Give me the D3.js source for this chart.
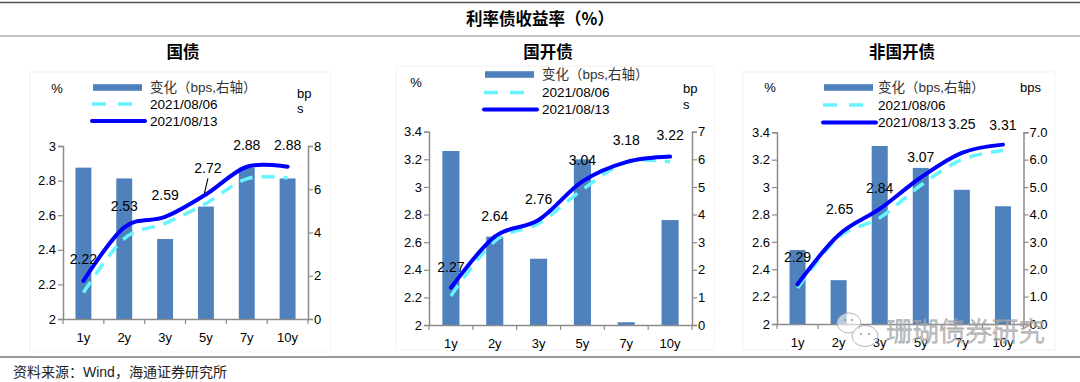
<!DOCTYPE html>
<html>
<head>
<meta charset="utf-8">
<script src="https://cdn.jsdelivr.net/npm/d3@7"></script>
<style>
  html, body { margin: 0; padding: 0; background: #fff; }
  svg { display: block; }
  text { font-family: "Liberation Sans", Arial, "Noto Sans CJK SC", sans-serif; }
</style>
</head>
<body>
<svg id="chart" width="1080" height="382"></svg>
<script>
// ---------- DATA ----------
const categories = ["1y", "2y", "3y", "5y", "7y", "10y"];

const govChange = [7.0, 6.5, 3.7, 5.2, 7.0, 6.5];
const gov0806   = [2.153, 2.465, 2.553, 2.668, 2.81, 2.815];
const gov0813   = [2.22, 2.53, 2.59, 2.72, 2.88, 2.88];

const cdbChange = [6.3, 3.2, 2.4, 6.0, 0.1, 3.8];
const cdb0806   = [2.21, 2.608, 2.736, 2.98, 3.179, 3.182];
const cdb0813   = [2.27, 2.64, 2.76, 3.04, 3.18, 3.22];

const nonChange = [2.7, 1.6, 6.5, 5.7, 4.9, 4.3];
const non0806   = [2.263, 2.634, 2.775, 3.013, 3.201, 3.267];
const non0813   = [2.29, 2.65, 2.84, 3.07, 3.25, 3.31];

const govLeftTicks  = [2, 2.2, 2.4, 2.6, 2.8, 3];
const govRightTicks = [0, 2, 4, 6, 8];
const cdbLeftTicks  = [2, 2.2, 2.4, 2.6, 2.8, 3, 3.2, 3.4];
const cdbRightTicks = [0, 1, 2, 3, 4, 5, 6, 7];
const nonLeftTicks  = [2, 2.2, 2.4, 2.6, 2.8, 3, 3.2, 3.4];
const nonRightTicks = [0, 1, 2, 3, 4, 5, 6, 7];

const mainTitle = "利率债收益率（%）";
const panelTitles = ["国债", "国开债", "非国开债"];
const legendLabels = ["变化（bps,右轴）", "2021/08/06", "2021/08/13"];
const sourceText = "资料来源：Wind，海通证券研究所";
const watermark = "珊瑚债券研究";

// ---------- STYLE ----------
const BAR = "#4F81BD", SOLID = "#0000FF", DASH = "#66F5FF", AXIS = "#8C8C8C";

const panels = [
  { title: panelTitles[0], cx: 183, change: govChange, y0806: gov0806, y0813: gov0813,
    leftTicks: govLeftTicks, rightTicks: govRightTicks, rightFmt: d => String(d),
    x0: 63, x1: 308, yTop: 146, yBot: 319,
    frame: [30, 72, 300, 280],
    labelDy: [-22, -21, -22, -26, -22, -22], labelDx: [0, 0, 0, 2, 0, 0], leader: 3,
    pct: [57, 88], bps: [[297, 93, "bp"], [297, 108, "s"]],
    leg: { sx: 92, tx: 150, ys: [87.5, 104, 121] } },
  { title: panelTitles[1], cx: 548, change: cdbChange, y0806: cdb0806, y0813: cdb0813,
    leftTicks: cdbLeftTicks, rightTicks: cdbRightTicks, rightFmt: d => String(d),
    x0: 429, x1: 692, yTop: 131.7, yBot: 325,
    frame: [396, 66, 318, 284],
    labelDy: [-21, -21, -21, -21, -21.5, -21], labelDx: [0, 0, 0, 0, 0, 0], leader: -1,
    pct: [416, 82], bps: [[683, 88, "bp"], [683, 104, "s"]],
    leg: { sx: 484, tx: 542, ys: [74.5, 92.5, 109.5] } },
  { title: panelTitles[2], cx: 902, change: nonChange, y0806: non0806, y0813: non0813,
    leftTicks: nonLeftTicks, rightTicks: nonRightTicks, rightFmt: d3.format(".1f"),
    x0: 777, x1: 1023.5, yTop: 132.3, yBot: 324,
    frame: [743, 72, 312, 278],
    labelDy: [-27.5, -25.5, -21, -20, -29, -20], labelDx: [0, 1, 0, 0, 0, 0], leader: -1,
    pct: [770, 87], bps: [[1020, 87, "bps"]],
    leg: { sx: 823, tx: 878, ys: [87.5, 105, 122.5] } }
];

const svg = d3.select("#chart");

// frame lines
svg.append("line").attr("x1", 0).attr("x2", 1080).attr("y1", 2.5).attr("y2", 2.5)
  .attr("stroke", "#555").attr("stroke-width", 1.5);
svg.append("line").attr("x1", 0).attr("x2", 1080).attr("y1", 36).attr("y2", 36)
  .attr("stroke", "#8a8a8a").attr("stroke-width", 1);
svg.append("line").attr("x1", 0).attr("x2", 1080).attr("y1", 357).attr("y2", 357)
  .attr("stroke", "#777").attr("stroke-width", 1.5);

svg.append("text").attr("x", 540).attr("y", 19).attr("dy", "0.35em")
  .attr("text-anchor", "middle").attr("font-size", 16.5).attr("font-weight", "bold")
  .style("font-family", "'Noto Sans CJK SC', sans-serif").text(mainTitle);

svg.append("text").attr("x", 13).attr("y", 372).attr("dy", "0.35em")
  .attr("font-size", 14).attr("fill", "#222")
  .style("font-family", "'Liberation Sans', 'Noto Sans CJK SC', sans-serif").text(sourceText);

panels.forEach(p => {
  const g = svg.append("g");
  // faint chart area
  g.append("rect").attr("x", p.frame[0]).attr("y", p.frame[1]).attr("width", p.frame[2]).attr("height", p.frame[3])
    .attr("fill", "none").attr("stroke", "#f2f2f2");

  g.append("text").attr("x", p.cx).attr("y", 52).attr("dy", "0.35em")
    .attr("text-anchor", "middle").attr("font-size", 16.5).attr("font-weight", "bold")
    .style("font-family", "'Noto Sans CJK SC', sans-serif").text(p.title);

  const x = d3.scaleBand().domain(categories).range([p.x0, p.x1]).paddingInner(0).paddingOuter(0);
  const yL = d3.scaleLinear().domain([p.leftTicks[0], p.leftTicks[p.leftTicks.length - 1]]).range([p.yBot, p.yTop]);
  const yR = d3.scaleLinear().domain([p.rightTicks[0], p.rightTicks[p.rightTicks.length - 1]]).range([p.yBot, p.yTop]);

  // bars
  const bw = x.bandwidth() * 0.39;
  g.selectAll("rect.bar").data(p.change).join("rect").attr("class", "bar")
    .attr("x", (d, i) => x(categories[i]) + (x.bandwidth() - bw) / 2)
    .attr("width", bw)
    .attr("y", d => yR(d))
    .attr("height", d => yR(0) - yR(d))
    .attr("fill", BAR);

  // axes
  const axL = g.append("g").attr("transform", `translate(${p.x0},0)`)
    .call(d3.axisLeft(yL).tickValues(p.leftTicks).tickSize(5).tickFormat(d => String(d)));
  const axR = g.append("g").attr("transform", `translate(${p.x1},0)`)
    .call(d3.axisRight(yR).tickValues(p.rightTicks).tickSize(5).tickFormat(p.rightFmt));
  const axB = g.append("g").attr("transform", `translate(0,${p.yBot})`)
    .call(d3.axisBottom(x).tickSize(0).tickFormat(""));
  [axL, axR, axB].forEach(a => {
    a.select(".domain").attr("stroke", AXIS).attr("stroke-width", 1.5);
    a.selectAll(".tick line").attr("stroke", AXIS).attr("stroke-width", 1.2);
    a.selectAll(".tick text").attr("fill", "#000").attr("font-size", 13)
      .style("font-family", "'Liberation Sans', Arial, sans-serif");
  });
  axL.selectAll(".tick text").attr("x", -7);
  axR.selectAll(".tick text").attr("x", 6);
  // category ticks at band boundaries
  const bounds = categories.map(c => x(c)).concat([p.x1]);
  g.selectAll("line.ctick").data(bounds).join("line").attr("class", "ctick")
    .attr("x1", d => d).attr("x2", d => d).attr("y1", p.yBot).attr("y2", p.yBot + 5)
    .attr("stroke", AXIS).attr("stroke-width", 1.2);
  g.selectAll("text.cat").data(categories).join("text").attr("class", "cat")
    .attr("x", d => x(d) + x.bandwidth() / 2).attr("y", p.yBot + 18).attr("dy", "0.35em")
    .attr("text-anchor", "middle").attr("font-size", 13).text(d => d);

  // lines
  const cx = i => x(categories[i]) + x.bandwidth() / 2;
  const line = d3.line().x((d, i) => cx(i)).y(d => yL(d)).curve(d3.curveCardinal.tension(0));
  g.append("path").datum(p.y0806).attr("d", line).attr("fill", "none")
    .attr("stroke", DASH).attr("stroke-width", 3.5).attr("stroke-dasharray", "13,9");
  g.append("path").datum(p.y0813).attr("d", line).attr("fill", "none")
    .attr("stroke", SOLID).attr("stroke-width", 4).attr("stroke-linecap", "round");

  // data labels
  g.selectAll("text.lbl").data(p.y0813).join("text").attr("class", "lbl")
    .attr("x", (d, i) => cx(i) + p.labelDx[i])
    .attr("y", (d, i) => yL(d) + p.labelDy[i]).attr("dy", "0.35em")
    .attr("text-anchor", "middle").attr("font-size", 14).attr("fill", "#000")
    .text(d => d3.format(".2f")(d));
  if (p.leader >= 0) {
    const i = p.leader;
    const lx = cx(i) + p.labelDx[i], ly = yL(p.y0813[i]) + p.labelDy[i];
    g.append("line").attr("x1", lx).attr("y1", ly + 10).attr("x2", lx - 3.5).attr("y2", ly + 25)
      .attr("stroke", "#000").attr("stroke-width", 1.1);
  }

  // unit labels
  g.append("text").attr("x", p.pct[0]).attr("y", p.pct[1]).attr("dy", "0.35em")
    .attr("text-anchor", "middle").attr("font-size", 13).text("%");
  p.bps.forEach(b => g.append("text").attr("x", b[0]).attr("y", b[1]).attr("dy", "0.35em")
    .attr("font-size", 13).text(b[2]));

  // legend
  const L = p.leg;
  g.append("rect").attr("x", L.sx + 1).attr("y", L.ys[0] - 3.3).attr("width", 49).attr("height", 6.6).attr("fill", BAR);
  g.append("line").attr("x1", L.sx).attr("x2", L.sx + 44).attr("y1", L.ys[1]).attr("y2", L.ys[1])
    .attr("stroke", DASH).attr("stroke-width", 3.5).attr("stroke-dasharray", "14,12");
  g.append("line").attr("x1", L.sx).attr("x2", L.sx + 53).attr("y1", L.ys[2]).attr("y2", L.ys[2])
    .attr("stroke", SOLID).attr("stroke-width", 4).attr("stroke-linecap", "round");
  legendLabels.forEach((t, i) => {
    g.append("text").attr("x", L.tx).attr("y", L.ys[i]).attr("dy", "0.35em")
      .attr("font-size", 13.5).attr("fill", i === 0 ? "#333" : "#000").text(t);
  });
});

// watermark
const wm = svg.append("g").attr("opacity", 0.85);
wm.append("ellipse").attr("cx", 849).attr("cy", 323).attr("rx", 12).attr("ry", 10)
  .attr("fill", "rgba(255,255,255,0.7)").attr("stroke", "#aaa").attr("stroke-width", 1);
wm.append("ellipse").attr("cx", 865).attr("cy", 336).attr("rx", 13).attr("ry", 10.5)
  .attr("fill", "rgba(255,255,255,0.7)").attr("stroke", "#aaa").attr("stroke-width", 1);
[[845, 320], [852, 320], [861, 334], [869, 334]].forEach(d =>
  wm.append("circle").attr("cx", d[0]).attr("cy", d[1]).attr("r", 1.3).attr("fill", "#aaa"));
wm.append("text").attr("x", 886).attr("y", 332).attr("dy", "0.35em")
  .attr("font-size", 26.5).attr("fill", "rgba(255,255,255,0.55)").attr("stroke", "#a0a0a0").attr("stroke-width", 0.9)
  .style("font-family", "'Noto Sans CJK SC', sans-serif").style("font-weight", 300).text(watermark);
</script>
</body>
</html>
